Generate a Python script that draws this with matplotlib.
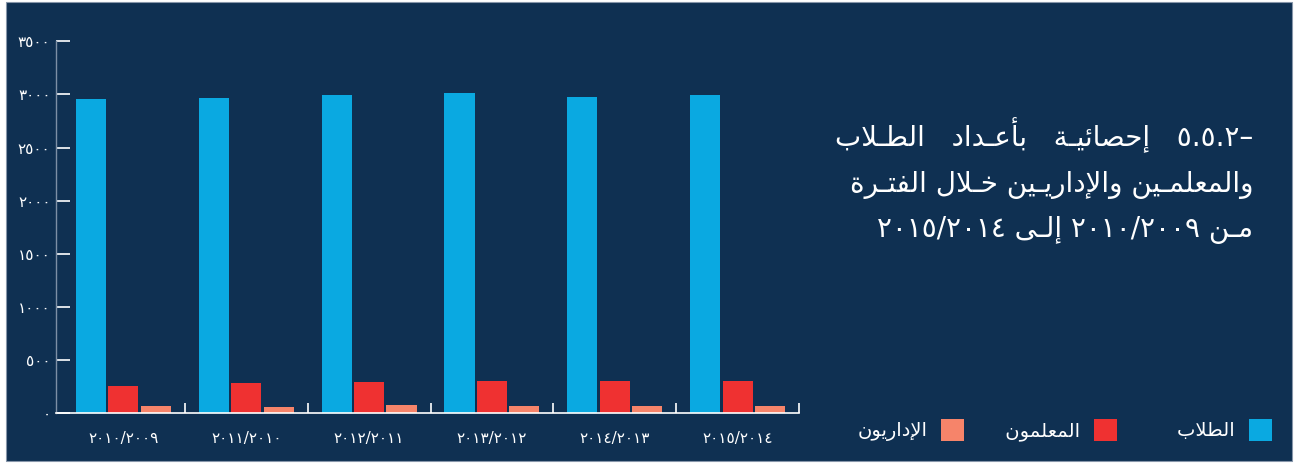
import numpy as np
import matplotlib.pyplot as plt
from matplotlib.patches import Rectangle

# Dados do gráfico
categories = ['٢٠١٠/٢٠٠٩', '٢٠١١/٢٠١٠', '٢٠١٢/٢٠١١', '٢٠١٣/٢٠١٢', '٢٠١٤/٢٠١٣', '٢٠١٥/٢٠١٤']
students = [2955, 2965, 2990, 3010, 2975, 2990]
teachers = [254, 280, 290, 300, 300, 300]
admins = [63, 54, 72, 63, 63, 63]
yticks = [0, 500, 1000, 1500, 2000, 2500, 3000, 3500]
ytick_labels = ['٠', '٥٠٠', '١٠٠٠', '١٥٠٠', '٢٠٠٠', '٢٥٠٠', '٣٠٠٠', '٣٥٠٠']
series_names = ['الطلاب', 'المعلمون', 'الإداريون']
title_lines = ['٥.٥.٢–   إحصائيـة   بأعـداد   الطـلاب',
               'والمعلمـين والإداريـين خـلال الفتـرة',
               'مـن ٢٠١٠/٢٠٠٩ إلـى ٢٠١٥/٢٠١٤']

# Formas de apresentação árabes: isolada, final, inicial, medial
FORMS = {
    'ا': ('\uFE8D', '\uFE8E', None, None),
    'أ': ('\uFE83', '\uFE84', None, None),
    'إ': ('\uFE87', '\uFE88', None, None),
    'آ': ('\uFE81', '\uFE82', None, None),
    'ب': ('\uFE8F', '\uFE90', '\uFE91', '\uFE92'),
    'ة': ('\uFE93', '\uFE94', None, None),
    'ت': ('\uFE95', '\uFE96', '\uFE97', '\uFE98'),
    'ح': ('\uFEA1', '\uFEA2', '\uFEA3', '\uFEA4'),
    'خ': ('\uFEA5', '\uFEA6', '\uFEA7', '\uFEA8'),
    'د': ('\uFEA9', '\uFEAA', None, None),
    'ر': ('\uFEAD', '\uFEAE', None, None),
    'ص': ('\uFEB9', '\uFEBA', '\uFEBB', '\uFEBC'),
    'ط': ('\uFEC1', '\uFEC2', '\uFEC3', '\uFEC4'),
    'ع': ('\uFEC9', '\uFECA', '\uFECB', '\uFECC'),
    'ف': ('\uFED1', '\uFED2', '\uFED3', '\uFED4'),
    'ل': ('\uFEDD', '\uFEDE', '\uFEDF', '\uFEE0'),
    'م': ('\uFEE1', '\uFEE2', '\uFEE3', '\uFEE4'),
    'ن': ('\uFEE5', '\uFEE6', '\uFEE7', '\uFEE8'),
    'و': ('\uFEED', '\uFEEE', None, None),
    'ى': ('\uFEEF', '\uFEF0', None, None),
    'ي': ('\uFEF1', '\uFEF2', '\uFEF3', '\uFEF4'),
    'ئ': ('\uFE89', '\uFE8A', '\uFE8B', '\uFE8C'),
    'ـ': ('\u0640', '\u0640', '\u0640', '\u0640'),
}
LAM_ALEF = {'ا': ('\uFEFB', '\uFEFC'), 'أ': ('\uFEF7', '\uFEF8'),
            'إ': ('\uFEF9', '\uFEFA'), 'آ': ('\uFEF5', '\uFEF6')}


def joins_next(c):
    return isinstance(c, str) and c in FORMS and FORMS[c][2] is not None


def shape(word):
    chars = []
    i = 0
    while i < len(word):
        if word[i] == 'ل' and i + 1 < len(word) and word[i + 1] in LAM_ALEF:
            chars.append(('LA', word[i + 1]))
            i += 2
        else:
            chars.append(word[i])
            i += 1
    out = []
    for k, c in enumerate(chars):
        prev = chars[k - 1] if k > 0 else None
        nxt = chars[k + 1] if k + 1 < len(chars) else None
        p = joins_next(prev)
        if isinstance(c, tuple):
            iso, fin = LAM_ALEF[c[1]]
            out.append(fin if p else iso)
            continue
        if c not in FORMS:
            out.append(c)
            continue
        iso, fin, ini, med = FORMS[c]
        n = ini is not None and nxt is not None and (isinstance(nxt, tuple) or nxt in FORMS)
        if p and n:
            out.append(med)
        elif n:
            out.append(ini)
        elif p:
            out.append(fin)
        else:
            out.append(iso)
    return out


def rtl(text):
    words = []
    for w in reversed(text.split(' ')):
        if any(ch in FORMS for ch in w):
            words.append(''.join(reversed(shape(w))))
        else:
            words.append(w)
    return ' '.join(words)


W, H = 1300, 463
bg = '#0f3052'
c_students, c_teachers, c_admins = '#0aa9e1', '#ef3131', '#f6846a'

plt.rcParams['font.family'] = ['DejaVu Sans']
fig = plt.figure(figsize=(W / 100, H / 100), dpi=100, facecolor='white')

# fundo azul escuro com borda fina
fig.patches.append(Rectangle((6 / W, 2 / H), 1286 / W, 459 / H, transform=fig.transFigure,
                             facecolor=bg, edgecolor='#8796aa', linewidth=0.8, zorder=-10))

ax = fig.add_axes([56 / W, 1 - 413 / H, 743 / W, (413 - 41.3) / H])
ax.set_facecolor('none')
ax.set_zorder(5)

x = np.arange(len(categories))
off = 0.264
bw = 0.245
b1 = ax.bar(x - off, students, bw, color=c_students)
b2 = ax.bar(x, teachers, bw, color=c_teachers)
b3 = ax.bar(x + off, admins, bw, color=c_admins)

ax.set_xlim(-0.549, 5.5)
ax.set_ylim(0, 3500)

for s in ['top', 'right']:
    ax.spines[s].set_visible(False)
ax.spines['left'].set_color('#7d8fa5')
ax.spines['left'].set_linewidth(1.0)
ax.spines['bottom'].set_color('white')
ax.spines['bottom'].set_linewidth(1.2)

ax.set_yticks(yticks)
ax.set_yticklabels(ytick_labels)
ax.tick_params(axis='y', direction='in', length=10, width=1.2, color='white',
               labelcolor='white', labelsize=11, pad=4)

ax.set_xticks(x)
ax.set_xticklabels(categories)
ax.set_xticks(x + 0.5, minor=True)
ax.tick_params(axis='x', which='major', length=0, labelcolor='white', labelsize=11, pad=13)
ax.tick_params(axis='x', which='minor', direction='in', length=7, width=1.2, color='white')

# título em três linhas alinhadas à direita
ys = [146, 192, 237]
for line, yy in zip(title_lines, ys):
    fig.text(1253 / W, 1 - yy / H, rtl(line), color='white', fontsize=20,
             ha='right', va='baseline', zorder=6)

# legenda (ordem da direita para a esquerda)
labels = [rtl(n) for n in series_names[::-1]]
labels[1] = ' ' + labels[1]
labels[2] = '    ' + labels[2]
leg = fig.legend([b3, b2, b1], labels,
                 loc='center right', bbox_to_anchor=(1272 / W, 1 - 430 / H),
                 ncol=3, frameon=False, markerfirst=False, fontsize=14,
                 handlelength=1.2, handleheight=1.35, handletextpad=0.7,
                 columnspacing=1.8, borderpad=0, borderaxespad=0)
for t in leg.get_texts():
    t.set_color('white')

fig.savefig('out.png', dpi=100, facecolor='white')
